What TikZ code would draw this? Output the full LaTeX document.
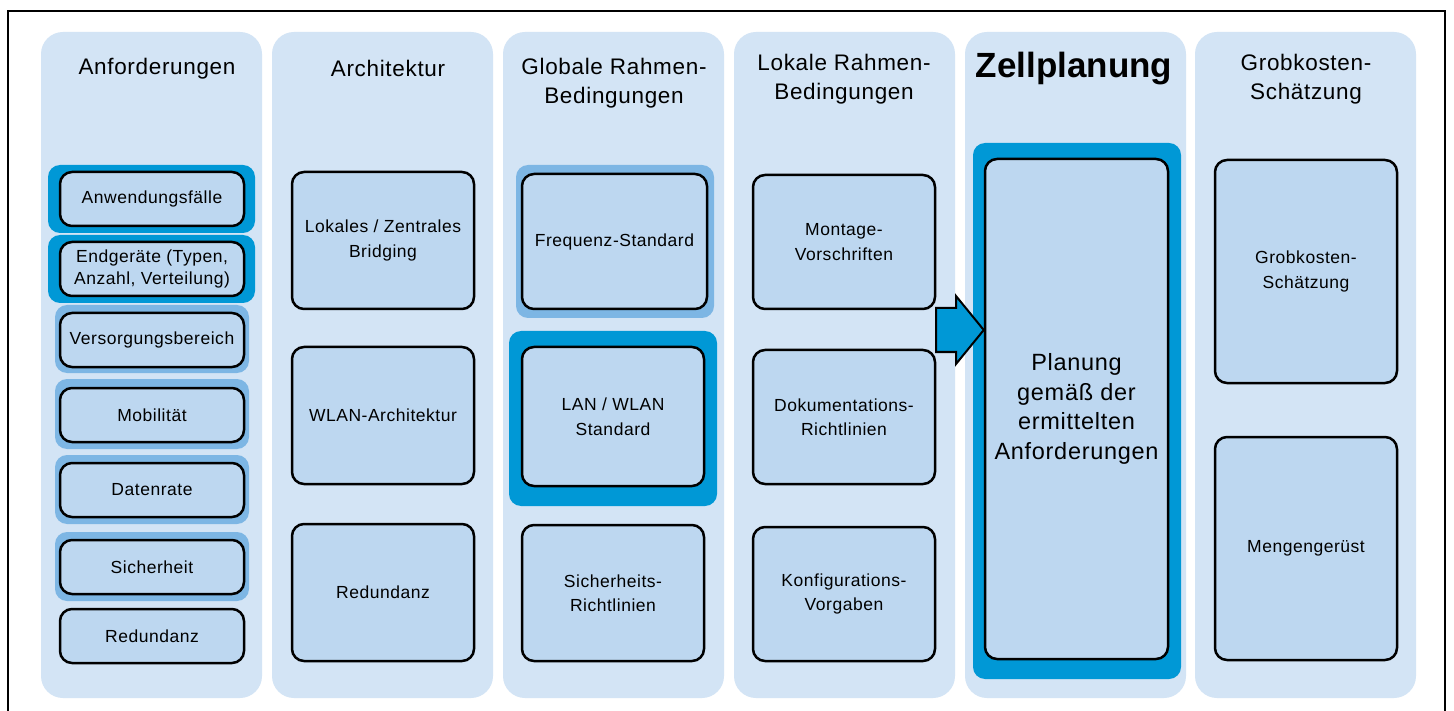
\documentclass[tikz,border=0pt]{standalone}
\usepackage{fontspec}
\setmainfont{Liberation Sans}[LetterSpace=3]
\newfontfamily\zellfont{Liberation Sans}
\definecolor{colbg}{HTML}{D3E4F5}
\definecolor{boxbg}{HTML}{BDD7F0}
\definecolor{hldark}{HTML}{0098D6}
\definecolor{hlmed}{HTML}{7DB6E4}
\begin{document}
\begin{tikzpicture}[x=1pt,y=-1pt,
  column/.style={fill=colbg, rounded corners=22pt},
  hldk/.style={fill=hldark, rounded corners=12pt},
  hlmd/.style={fill=hlmed, rounded corners=12pt},
  box/.style={draw=black, line width=2.5pt, fill=boxbg, rounded corners=12pt, align=center, inner sep=0pt, font=\fontsize{17.5}{24.5}\selectfont},
  smallbox/.style={box, minimum width=184pt, minimum height=54pt},
  bigbox/.style={box, minimum width=182pt, minimum height=137pt},
  title/.style={align=center, inner sep=0pt, font=\fontsize{22.5}{29}\selectfont}
]
\useasboundingbox (0,0) rectangle (1454,711);
\fill[white] (0,0) rectangle (1454,711);
% outer frame
\draw[line width=2.5pt] (8,712) -- (8,11) -- (1445,11) -- (1445,712);
% columns
\fill[column] (41,32) rectangle (262,698);
\fill[column] (272,32) rectangle (493,698);
\fill[column] (503,32) rectangle (724,698);
\fill[column] (734,32) rectangle (955,698);
\fill[column] (965,32) rectangle (1186,698);
\fill[column] (1195,32) rectangle (1416,698);
% titles
\node[title] (t1) at (157,69) {Anforderungen};
\node[title] (t2) at (388,68) {Architektur};
\node[title] (t3) at (614,83) {Globale Rahmen-\\Bedingungen};
\node[title] (t4) at (844,79) {Lokale Rahmen-\\Bedingungen};
\node[align=center, inner sep=0pt, font=\zellfont\fontsize{35}{40}\selectfont\bfseries] (t5) at (1074,69) {Zellplanung};
\node[title] (t6) at (1306,79) {Grobkosten-\\Schätzung};
% column 1
\fill[hldk] (48,165) rectangle (255,233);
\fill[hldk] (48,235) rectangle (255,303);
\fill[hlmd] (55,305) rectangle (249,373);
\fill[hlmd] (55,379) rectangle (249,449);
\fill[hlmd] (55,455) rectangle (249,524);
\fill[hlmd] (55,532) rectangle (249,601);
\node[smallbox] (a1) at (152,199) {Anwendungsfälle};
\node[smallbox, font=\fontsize{17.5}{22}\selectfont] (a2) at (152,269) {Endgeräte (Typen,\\Anzahl, Verteilung)};
\node[smallbox] (a3) at (152,340) {Versorgungsbereich};
\node[smallbox] (a4) at (152,415) {Mobilität};
\node[smallbox] (a5) at (152,490) {Datenrate};
\node[smallbox] (a6) at (152,567) {Sicherheit};
\node[smallbox] (a7) at (152,636) {Redundanz};
% column 2
\node[bigbox] (b1) at (383,240.5) {Lokales / Zentrales\\Bridging};
\node[bigbox] (b2) at (383,415.5) {WLAN-Architektur};
\node[bigbox] (b3) at (383,592.5) {Redundanz};
% column 3
\fill[hlmd] (516,165) rectangle (714,318);
\fill[hldk] (509,331) rectangle (717,506);
\node[box, minimum width=185pt, minimum height=135pt] (c1) at (614.5,241.5) {Frequenz-Standard};
\node[box, minimum width=182pt, minimum height=139pt] (c2) at (613,416.5) {LAN / WLAN\\Standard};
\node[box, minimum width=182pt, minimum height=136pt] (c3) at (613,593) {Sicherheits-\\Richtlinien};
% column 4
\node[box, minimum width=182pt, minimum height=134pt] (d1) at (844,242) {Montage-\\Vorschriften};
\node[box, minimum width=182pt, minimum height=134pt] (d2) at (844,417) {Dokumentations-\\Richtlinien};
\node[box, minimum width=182pt, minimum height=134pt] (d3) at (844,594) {Konfigurations-\\Vorgaben};
% column 5
\fill[hldk] (973,143) rectangle (1181,679);
\node[box, minimum width=183pt, minimum height=500pt, font=\fontsize{23.5}{29.5}\selectfont] (plan) at (1076.5,409) {Planung\\gemäß der\\ermittelten\\Anforderungen};
% column 6
\node[box, minimum width=182pt, minimum height=223pt] (f1) at (1306,271.5) {Grobkosten-\\Schätzung};
\node[box, minimum width=182pt, minimum height=223pt] (f2) at (1306,548.5) {Mengengerüst};
% arrow
\coordinate (tipy) at (0,330);
\draw[fill=hldark, line width=2pt, line join=miter] (936,308) -- (956,308) -- (956,296) -- (plan.west |- tipy) -- (956,364) -- (956,352) -- (936,352) -- cycle;
\end{tikzpicture}
\end{document}
